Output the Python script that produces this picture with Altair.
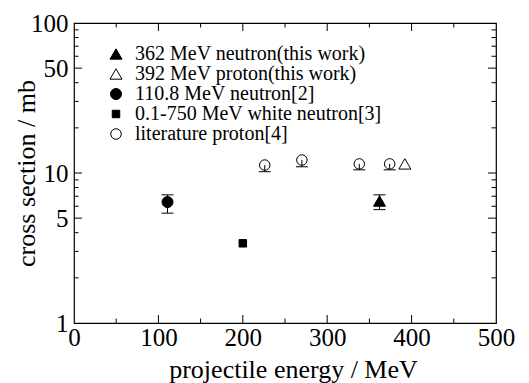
import altair as alt
import pandas as pd

# ---------------- data ----------------
series_names = [
    "362 MeV neutron(this work)",
    "392 MeV proton(this work)",
    "110.8 MeV neutron[2]",
    "0.1-750 MeV white neutron[3]",
    "literature proton[4]",
]
point_series = [0, 1, 2, 3, 4, 4, 4, 4]
energy = [362, 392, 110.8, 200, 226, 270, 338, 374]
cross_section = [6.5, 11.5, 6.4, 3.4, 11.3, 12.2, 11.5, 11.5]

# error bars (lower / upper ends); open circles show lower bar only
err_energy = [362, 110.8, 226, 270, 338, 374]
err_low = [5.7, 5.4, 10.2, 11.0, 10.5, 10.5]
err_high = [7.15, 7.15, 11.3, 12.2, 11.5, 11.5]
cap_energy = [362, 362, 110.8, 110.8, 226, 270, 338, 374]
cap_value = [5.7, 7.15, 5.4, 7.15, 10.2, 11.0, 10.5, 10.5]

x_labels = [0, 100, 200, 300, 400, 500]
x_major = [100, 200, 300, 400]
x_minor = [50, 150, 250, 350, 450]
y_labels = [1, 5, 10, 50, 100]
y_major = [5, 10, 50]
y_minor = [2, 3, 4, 6, 7, 8, 9, 20, 30, 40, 60, 70, 80, 90]

# ---------------- layout ----------------
W, H = 422, 300
MAJ, MIN = 8, 4.5
FONT = "Liberation Serif"

pts = pd.DataFrame({
    "energy": energy,
    "cs": cross_section,
    "series": [series_names[i] for i in point_series],
})
errs = pd.DataFrame({"energy": err_energy, "lo": err_low, "hi": err_high})
caps = pd.DataFrame({"energy": cap_energy, "v": cap_value})

xscale = alt.Scale(type="linear", domain=[0, 500], nice=False, zero=False)
yscale = alt.Scale(type="log", domain=[1, 100], nice=False)

x_axis = alt.Axis(
    values=x_labels, format="d", title="projectile energy / MeV",
    labelFlush=False, labelOverlap=False, labelPadding=2,
    domain=False, ticks=False, grid=False,
    labelFont=FONT, labelFontSize=25, labelColor="black",
    titleFont=FONT, titleFontSize=26, titleFontWeight="normal", titleColor="black",
    titleX=219, titleY=54, titleBaseline="alphabetic",
)
y_axis = alt.Axis(
    values=y_labels, format="d", title="cross section / mb",
    labelOverlap=False, labelPadding=6,
    domain=False, ticks=False, grid=False,
    labelFont=FONT, labelFontSize=25, labelColor="black",
    titleFont=FONT, titleFontSize=26, titleFontWeight="normal", titleColor="black",
    titlePadding=-9,
)

legend = alt.Legend(
    title=None, orient="none", legendX=32, legendY=21,
    labelFont=FONT, labelFontSize=20, labelColor="black", labelLimit=0,
    labelOffset=9, rowPadding=0, padding=0, symbolStrokeWidth=1,
)

points = alt.Chart(pts).mark_point(
    filled=False, opacity=1, strokeWidth=1
).encode(
    x=alt.X("energy:Q", scale=xscale, axis=x_axis),
    y=alt.Y("cs:Q", scale=yscale, axis=y_axis),
    shape=alt.Shape(
        "series:N",
        scale=alt.Scale(domain=series_names,
                        range=["triangle-up", "triangle-up", "circle", "square", "circle"]),
        legend=legend,
    ),
    fill=alt.Fill(
        "series:N",
        scale=alt.Scale(domain=series_names,
                        range=["black", "transparent", "black", "black", "transparent"]),
        legend=legend,
    ),
    stroke=alt.Stroke(
        "series:N",
        scale=alt.Scale(domain=series_names,
                        range=["black", "black", "black", "black", "black"]),
        legend=legend,
    ),
    size=alt.Size(
        "series:N",
        scale=alt.Scale(type="ordinal", domain=series_names,
                        range=[144, 144, 121, 56, 110]),
        legend=legend,
    ),
)

bars = alt.Chart(errs).mark_rule(color="black", strokeWidth=1).encode(
    x=alt.X("energy:Q", scale=xscale, axis=x_axis),
    y=alt.Y("lo:Q", scale=yscale, axis=y_axis),
    y2="hi:Q",
)

capmarks = alt.Chart(caps).mark_tick(
    orient="horizontal", size=12, thickness=1, color="black", opacity=1
).encode(
    x=alt.X("energy:Q", scale=xscale, axis=x_axis),
    y=alt.Y("v:Q", scale=yscale, axis=y_axis),
)


def ytick_layer(vals, length):
    df = pd.DataFrame({"v": vals})
    left = alt.Chart(df).mark_rule(color="black", strokeWidth=1).encode(
        y=alt.Y("v:Q", scale=yscale, axis=y_axis),
        x=alt.value(0), x2=alt.value(length),
    )
    right = alt.Chart(df).mark_rule(color="black", strokeWidth=1).encode(
        y=alt.Y("v:Q", scale=yscale, axis=y_axis),
        x=alt.value(W - length), x2=alt.value(W),
    )
    return [left, right]


def xtick_layer(vals, length):
    df = pd.DataFrame({"v": vals})
    bottom = alt.Chart(df).mark_rule(color="black", strokeWidth=1).encode(
        x=alt.X("v:Q", scale=xscale, axis=x_axis),
        y=alt.value(H - length), y2=alt.value(H),
    )
    top = alt.Chart(df).mark_rule(color="black", strokeWidth=1).encode(
        x=alt.X("v:Q", scale=xscale, axis=x_axis),
        y=alt.value(0), y2=alt.value(length),
    )
    return [bottom, top]


ticks = (ytick_layer(y_major, MAJ) + ytick_layer(y_minor, MIN)
         + xtick_layer(x_major, MAJ) + xtick_layer(x_minor, MIN))

chart = alt.layer(points, bars, capmarks, *ticks).properties(
    width=W, height=H,
    autosize=alt.AutoSizeParams(type="none"),
    padding={"left": 74, "top": 23, "right": 33, "bottom": 60},
    background="white",
).configure_view(
    stroke="black", strokeWidth=1.2,
)

chart.save("out.html", embed_options={"renderer": "svg", "actions": False})
